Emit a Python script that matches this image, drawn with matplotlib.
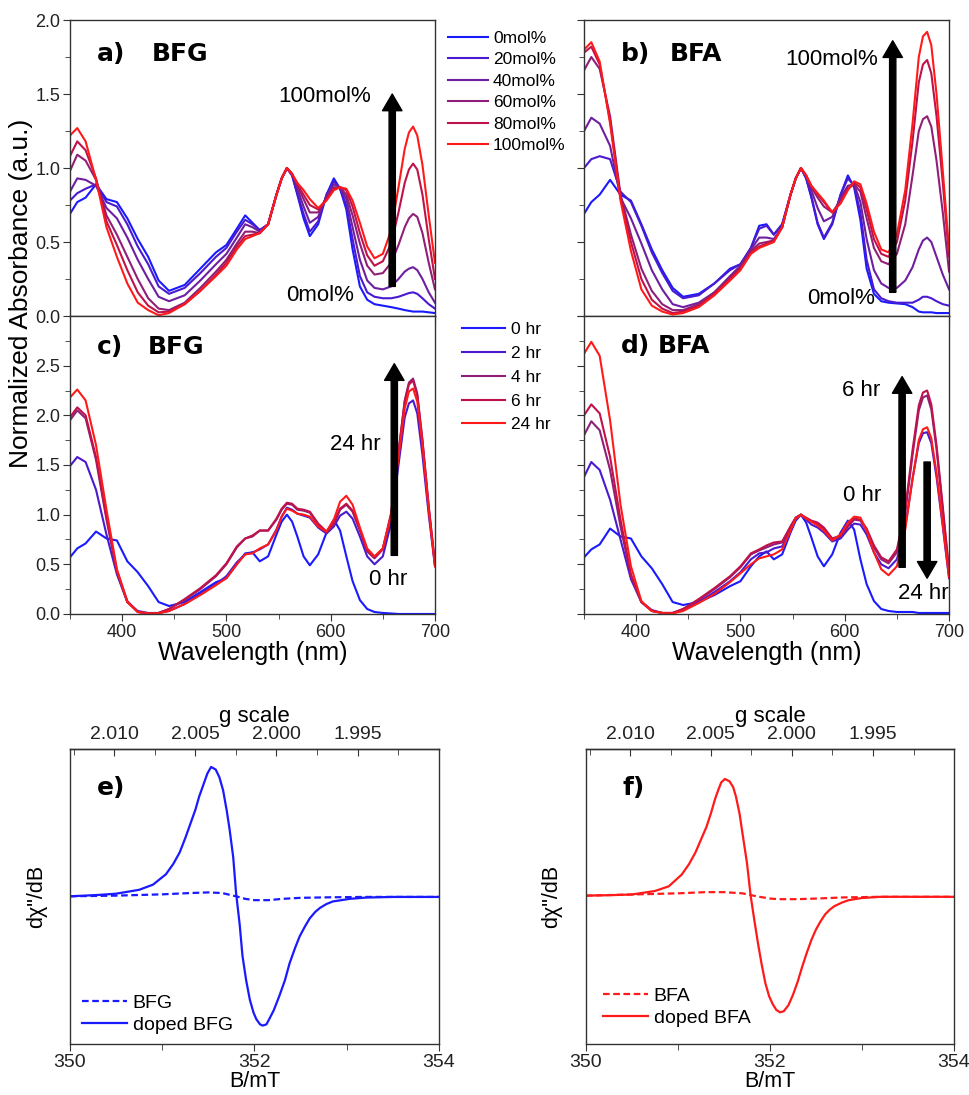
import matplotlib
matplotlib.use('Agg')
import matplotlib.pyplot as plt
from matplotlib.ticker import MultipleLocator, FixedLocator, FormatStrFormatter

plt.rcParams['font.family'] = ['Liberation Sans', 'DejaVu Sans']
plt.rcParams['axes.edgecolor'] = '#333333'
plt.rcParams['axes.linewidth'] = 1.0

# ---- UV-vis data (wavelength grid shared by all four panels) ----
wl = [350, 357, 365, 375, 385, 395, 405, 415, 425, 435, 445, 460, 475, 490, 500,
      510, 518, 525, 532, 540, 548, 553, 558, 563, 568, 574, 580, 588, 596, 603,
      609, 615, 621, 628, 635, 642, 650, 658, 665, 671, 675, 679, 683, 688, 694, 700]

mol_labels = ['0mol%', '20mol%', '40mol%', '60mol%', '80mol%', '100mol%']
mol_colors = ['#1a1aff', '#4a1ad0', '#6e1fa0', '#8f1f78', '#c0124a', '#ff1a1a']
hr_labels = ['0 hr', '2 hr', '4 hr', '6 hr', '24 hr']
hr_colors = ['#1a1aff', '#4a1ad0', '#8f1f78', '#c0124a', '#ff1a1a']

# a) BFG, doping level
bfg_0 = [.69, .77, .80, .89, .79, .77, .66, .52, .40, .24, .17, .21, .32, .43, .48,
         .59, .68, .63, .58, .62, .82, .93, 1.00, .95, .82, .66, .54, .62, .82, .93,
         .86, .72, .45, .20, .11, .08, .07, .06, .05, .04, .035, .03, .03, .03, .025, .02]
bfg_20 = [.78, .83, .86, .89, .77, .74, .62, .47, .35, .20, .15, .19, .29, .40, .46,
          .57, .65, .62, .58, .62, .82, .93, 1.00, .95, .83, .69, .57, .64, .82, .91,
          .86, .75, .52, .27, .16, .13, .12, .12, .13, .145, .155, .16, .15, .12, .08, .05]
bfg_40 = [.84, .93, .92, .88, .73, .66, .53, .38, .25, .13, .10, .14, .24, .35, .42,
          .53, .62, .60, .57, .62, .82, .93, 1.00, .96, .86, .74, .63, .67, .81, .89,
          .87, .79, .60, .38, .24, .19, .18, .20, .25, .30, .32, .33, .31, .25, .16, .09]
bfg_60 = [.98, 1.09, 1.05, .92, .68, .55, .40, .25, .12, .05, .04, .09, .19, .30, .38,
          .49, .57, .57, .56, .62, .82, .93, 1.00, .96, .88, .79, .70, .70, .80, .87,
          .87, .82, .68, .49, .34, .28, .29, .36, .48, .60, .66, .69, .67, .56, .36, .18]
bfg_80 = [1.08, 1.18, 1.12, .93, .64, .48, .31, .16, .07, .025, .03, .08, .17, .28, .36,
          .47, .54, .55, .56, .62, .82, .93, 1.00, .96, .89, .82, .75, .72, .79, .86,
          .87, .85, .74, .56, .41, .34, .37, .49, .70, .90, .99, 1.03, .99, .82, .52, .25]
bfg_100 = [1.22, 1.27, 1.18, .92, .60, .40, .22, .09, .04, .005, .02, .08, .17, .27, .34,
           .45, .52, .54, .56, .62, .82, .93, 1.00, .96, .90, .85, .79, .73, .78, .85,
           .87, .86, .78, .63, .47, .39, .42, .58, .87, 1.13, 1.24, 1.28, 1.22, 1.02, .68, .36]

# b) BFA, doping level
bfa_0 = [.69, .77, .82, .92, .82, .78, .62, .45, .31, .19, .13, .15, .22, .32, .35,
         .46, .61, .62, .55, .62, .82, .93, 1.00, .93, .80, .62, .52, .62, .82, .95,
         .87, .65, .32, .15, .10, .09, .085, .08, .06, .03, .025, .025, .025, .02, .02, .02]
bfa_20 = [1.00, 1.06, 1.08, 1.06, .84, .77, .61, .43, .29, .17, .12, .14, .22, .31, .35,
          .46, .59, .61, .55, .62, .82, .93, 1.00, .93, .81, .63, .53, .63, .82, .93,
          .88, .70, .38, .18, .12, .10, .09, .09, .09, .11, .13, .13, .12, .10, .08, .07]
bfa_40 = [1.25, 1.34, 1.30, 1.15, .80, .66, .49, .31, .18, .08, .06, .09, .16, .27, .34,
          .45, .53, .53, .52, .60, .82, .93, 1.00, .94, .85, .73, .64, .67, .80, .88,
          .89, .77, .52, .31, .22, .19, .19, .24, .33, .45, .51, .53, .50, .40, .28, .18]
bfa_60 = [1.66, 1.75, 1.67, 1.35, .82, .55, .32, .17, .08, .04, .04, .08, .16, .26, .33,
          .44, .49, .50, .51, .60, .82, .93, 1.00, .95, .87, .80, .74, .70, .78, .86,
          .89, .84, .66, .46, .37, .35, .42, .62, .95, 1.25, 1.33, 1.35, 1.28, 1.05, .70, .30]
bfa_80 = [1.78, 1.82, 1.70, 1.32, .80, .50, .25, .11, .05, .02, .03, .07, .15, .25, .32,
          .43, .47, .49, .51, .60, .82, .93, 1.00, .95, .88, .82, .77, .70, .77, .86,
          .90, .87, .72, .52, .42, .40, .50, .78, 1.18, 1.58, 1.70, 1.73, 1.64, 1.35, .90, .40]
bfa_100 = [1.80, 1.85, 1.72, 1.30, .78, .44, .18, .07, .03, .01, .02, .06, .14, .24, .31,
           .42, .46, .48, .50, .60, .82, .93, 1.00, .95, .88, .83, .78, .70, .76, .85,
           .91, .89, .76, .57, .45, .43, .55, .85, 1.30, 1.75, 1.89, 1.92, 1.83, 1.50, .98, .45]

# c) BFG, time
bfgt_0 = [.57, .66, .71, .83, .76, .74, .53, .42, .28, .12, .08, .12, .22, .32, .36,
          .50, .61, .62, .53, .58, .80, .93, 1.00, .93, .78, .58, .49, .60, .82, .95,
          .84, .58, .33, .14, .05, .02, .01, .005, 0, 0, 0, 0, 0, 0, 0, 0]
bfgt_2 = [1.49, 1.58, 1.53, 1.25, .80, .40, .12, .03, .01, .01, .03, .10, .20, .30, .38,
          .52, .60, .62, .65, .70, .85, .98, 1.07, 1.05, 1.01, .99, .97, .87, .81, .88,
          .99, 1.03, .96, .78, .58, .50, .58, .92, 1.50, 1.98, 2.12, 2.15, 2.02, 1.60, 1.00, .48]
bfgt_4 = [1.95, 2.05, 1.97, 1.55, .95, .42, .12, .02, .005, .01, .05, .14, .25, .38, .50,
          .67, .76, .78, .84, .84, .95, 1.05, 1.11, 1.10, 1.05, 1.04, 1.02, .90, .82, .90,
          1.05, 1.10, 1.03, .84, .63, .56, .65, 1.00, 1.62, 2.15, 2.33, 2.37, 2.22, 1.75, 1.08, .50]
bfgt_6 = [1.98, 2.08, 2.00, 1.58, .98, .44, .13, .02, .005, .01, .05, .15, .26, .39, .51,
          .68, .76, .79, .84, .84, .96, 1.06, 1.12, 1.11, 1.06, 1.05, 1.03, .91, .83, .92,
          1.06, 1.11, 1.04, .85, .64, .57, .66, 1.02, 1.63, 2.14, 2.31, 2.35, 2.20, 1.74, 1.08, .50]
bfgt_24 = [2.18, 2.26, 2.15, 1.70, 1.05, .45, .12, .02, .005, .005, .03, .10, .19, .29, .36,
           .50, .60, .61, .66, .70, .84, .98, 1.06, 1.04, 1.01, 1.00, .98, .88, .83, .95,
           1.13, 1.19, 1.10, .87, .66, .58, .66, 1.00, 1.58, 2.07, 2.24, 2.27, 2.14, 1.70, 1.05, .48]

# d) BFA, time
bfat_0 = [.57, .65, .70, .86, .78, .76, .58, .46, .30, .12, .09, .12, .19, .28, .33,
          .48, .58, .63, .55, .60, .82, .94, 1.00, .92, .77, .58, .48, .60, .82, .94,
          .85, .55, .30, .13, .05, .03, .02, .02, .02, .01, .01, .01, .01, .01, .01, .01]
bfat_2 = [1.38, 1.53, 1.45, 1.15, .75, .35, .12, .04, .01, .01, .04, .12, .22, .33, .42,
          .55, .61, .62, .66, .68, .85, .96, 1.00, .95, .90, .87, .82, .73, .76, .85,
          .91, .90, .80, .62, .50, .46, .55, .88, 1.36, 1.72, 1.82, 1.83, 1.72, 1.38, .88, .36]
bfat_4 = [1.80, 1.94, 1.85, 1.45, .88, .38, .12, .03, .01, .01, .05, .14, .25, .37, .47,
          .60, .64, .67, .70, .72, .88, .97, 1.00, .96, .93, .90, .86, .75, .78, .88,
          .95, .94, .84, .67, .55, .51, .62, 1.02, 1.60, 2.05, 2.18, 2.20, 2.06, 1.66, 1.05, .42]
bfat_6 = [2.00, 2.11, 2.02, 1.58, .95, .40, .12, .03, .01, .01, .05, .15, .26, .38, .48,
          .61, .65, .69, .72, .73, .88, .97, 1.00, .97, .94, .92, .87, .76, .79, .89,
          .96, .95, .86, .69, .57, .53, .65, 1.05, 1.65, 2.10, 2.23, 2.25, 2.11, 1.70, 1.08, .44]
bfat_24 = [2.62, 2.74, 2.60, 1.95, 1.10, .48, .13, .03, .01, .005, .03, .11, .20, .32, .41,
           .50, .56, .58, .60, .65, .84, .96, 1.00, .96, .93, .89, .84, .74, .80, .92,
           .98, .97, .84, .62, .45, .39, .48, .85, 1.36, 1.75, 1.86, 1.88, 1.77, 1.42, .90, .37]

# ---- EPR data ----
b_doped_bfg = [350.0, 350.3, 350.5, 350.75, 350.9, 351.04, 351.12, 351.19, 351.25, 351.31,
               351.36, 351.40, 351.45, 351.49, 351.53, 351.58, 351.62, 351.66, 351.70, 351.73,
               351.77, 351.80, 351.84, 351.87, 351.91, 351.95, 351.99, 352.02, 352.06, 352.09,
               352.13, 352.16, 352.21, 352.27, 352.33, 352.38, 352.44, 352.49, 352.55, 352.60,
               352.66, 352.71, 352.78, 352.85, 352.94, 353.03, 353.21, 353.5, 354.0]
i_doped_bfg = [0, .01, .02, .05, .09, .17, .25, .34, .45, .57,
               .67, .77, .87, .95, 1.0, .98, .92, .82, .66, .52,
               .30, .03, -.22, -.46, -.65, -.80, -.90, -.95, -.99, -1.0,
               -.99, -.95, -.88, -.77, -.65, -.52, -.40, -.31, -.23, -.17,
               -.12, -.09, -.06, -.04, -.03, -.02, -.01, -.005, -.005]
b_bfg = [350.0, 350.5, 351.0, 351.3, 351.5, 351.65, 351.8, 351.9, 352.0, 352.15, 352.3,
         352.5, 352.8, 353.2, 354.0]
i_bfg = [0, .005, .015, .025, .03, .025, 0, -.02, -.03, -.03, -.02, -.012, -.008, -.005, -.005]

b_doped_bfa = [350.0, 350.3, 350.5, 350.75, 350.9, 351.04, 351.12, 351.19, 351.25, 351.31,
               351.36, 351.40, 351.44, 351.47, 351.51, 351.56, 351.60, 351.63, 351.67, 351.70,
               351.75, 351.79, 351.83, 351.87, 351.91, 351.95, 351.99, 352.03, 352.07, 352.11,
               352.15, 352.20, 352.25, 352.30, 352.35, 352.40, 352.45, 352.50, 352.55, 352.60,
               352.65, 352.70, 352.78, 352.85, 352.92, 353.0, 353.2, 353.5, 354.0]
i_doped_bfa = [0, .005, .01, .04, .08, .18, .27, .37, .48, .59,
               .71, .82, .91, .97, 1.0, .98, .93, .85, .70, .54,
               .28, 0, -.21, -.41, -.59, -.75, -.86, -.93, -.98, -1.0,
               -.99, -.94, -.85, -.74, -.61, -.49, -.38, -.29, -.22, -.16,
               -.12, -.09, -.06, -.04, -.03, -.02, -.01, -.01, -.01]
b_bfa = [350.0, 350.5, 351.0, 351.3, 351.5, 351.7, 351.85, 352.0, 352.1, 352.3, 352.5,
         352.8, 353.2, 354.0]
i_bfa = [0, .01, .02, .03, .03, .02, -.005, -.025, -.03, -.03, -.025, -.015, -.01, -.01]

g_ticks = [2.010, 2.005, 2.000, 1.995]
g_minor = [2.0125, 2.0075, 2.0025, 1.9975, 1.9925]
HNU = 704.47   # h*nu/muB in mT (X-band, ~9.86 GHz)

TICK = 13
LAB = 18
TITLE = dict(fontsize=18, fontweight='bold', family='DejaVu Sans', va='center', ha='left')

fig = plt.figure(figsize=(9.69, 10.95), dpi=100)

ax_a = fig.add_axes([0.0722, 0.7114, 0.3767, 0.2703])
ax_c = fig.add_axes([0.0722, 0.4393, 0.3767, 0.2721])
ax_b = fig.add_axes([0.6027, 0.7114, 0.3767, 0.2703])
ax_d = fig.add_axes([0.6027, 0.4393, 0.3767, 0.2721])
ax_e = fig.add_axes([0.0722, 0.0466, 0.3808, 0.2694])
ax_f = fig.add_axes([0.6047, 0.0466, 0.3798, 0.2694])


def uv_axes(ax, ymax, ylabels, xlabels):
    ax.set_xlim(350, 700)
    ax.set_ylim(0, ymax)
    ax.xaxis.set_major_locator(MultipleLocator(100))
    ax.xaxis.set_minor_locator(MultipleLocator(50))
    ax.yaxis.set_major_locator(MultipleLocator(0.5))
    ax.yaxis.set_minor_locator(MultipleLocator(0.25))
    ax.yaxis.set_major_formatter(FormatStrFormatter('%.1f'))
    ax.tick_params(which='both', direction='out', top=False, right=False,
                   labelsize=TICK, colors='#333333', labelcolor='#222222')
    ax.tick_params(which='major', length=5, pad=2)
    ax.tick_params(which='minor', length=3.5)
    if not ylabels:
        ax.tick_params(axis='y', which='both', labelleft=False)
    if not xlabels:
        ax.tick_params(axis='x', which='both', labelbottom=False)
    else:
        ax.set_xlabel('Wavelength (nm)', fontsize=LAB, labelpad=0)


def arrow(ax, x, y0, y1):
    ax.annotate('', xy=(x, y1), xytext=(x, y0),
                arrowprops=dict(facecolor='black', edgecolor='black', width=4.5,
                                headwidth=14, headlength=12, shrink=0))


for ax, series in [(ax_a, [bfg_0, bfg_20, bfg_40, bfg_60, bfg_80, bfg_100]),
                   (ax_b, [bfa_0, bfa_20, bfa_40, bfa_60, bfa_80, bfa_100])]:
    for s, c, l in zip(series, mol_colors, mol_labels):
        ax.plot(wl, s, color=c, lw=1.5, label=l)

for ax, series in [(ax_c, [bfgt_0, bfgt_2, bfgt_4, bfgt_6, bfgt_24]),
                   (ax_d, [bfat_0, bfat_2, bfat_4, bfat_6, bfat_24])]:
    for s, c, l in zip(series, hr_colors, hr_labels):
        ax.plot(wl, s, color=c, lw=1.5, label=l)

uv_axes(ax_a, 2.0, True, False)
uv_axes(ax_b, 2.0, False, False)
uv_axes(ax_c, 3.0, True, True)
uv_axes(ax_d, 3.0, False, True)
ax_c.set_yticks([0, 0.5, 1.0, 1.5, 2.0, 2.5])

# panel titles
ax_a.text(375.6, 1.77, 'a)', **TITLE)
ax_a.text(428.3, 1.77, 'BFG', **TITLE)
ax_b.text(385.8, 1.77, 'b)', **TITLE)
ax_b.text(432.5, 1.77, 'BFA', **TITLE)
ax_c.text(375.6, 2.69, 'c)', **TITLE)
ax_c.text(425.0, 2.69, 'BFG', **TITLE)
ax_d.text(385.8, 2.70, 'd)', **TITLE)
ax_d.text(421.0, 2.70, 'BFA', **TITLE)

# arrows and annotations
ann = dict(fontsize=16, va='center', ha='center')
arrow(ax_a, 659, 0.2, 1.5)
ax_a.text(639, 1.48, '100mol%', fontsize=16, va='center', ha='right')
ax_a.text(590, 0.14, '0mol%', **ann)

arrow(ax_b, 646, 0.16, 1.86)
ax_b.text(632, 1.73, '100mol%', fontsize=16, va='center', ha='right')
ax_b.text(596, 0.12, '0mol%', **ann)

arrow(ax_c, 661, 0.59, 2.52)
ax_c.text(624, 1.71, '24 hr', **ann)
ax_c.text(655, 0.35, '0 hr', **ann)

arrow(ax_d, 655, 0.47, 2.39)
ax_d.text(616, 2.25, '6 hr', **ann)
ax_d.text(617, 1.19, '0 hr', **ann)
arrow(ax_d, 679, 1.53, 0.36)
ax_d.text(675, 0.21, '24 hr', **ann)

fig.text(0.022, 0.7324, 'Normalized Absorbance (a.u.)', rotation=90,
         ha='center', va='center', fontsize=19)

leg_kw = dict(loc='upper left', bbox_transform=fig.transFigure, frameon=False,
              borderpad=0, borderaxespad=0, handletextpad=0.3)
ax_a.legend(bbox_to_anchor=(0.4623, 0.9718), fontsize=12.5, handlelength=2.3,
            labelspacing=0.36, **leg_kw)
ax_c.legend(bbox_to_anchor=(0.4768, 0.7060), fontsize=12.5, handlelength=2.5,
            labelspacing=0.50, **leg_kw)


# ---- EPR panels ----
def b2g(b):
    return HNU / b


def g2b(g):
    return HNU / g


def epr_axes(ax, letter, lx, ly_x):
    ax.set_xlim(350, 354)
    ax.set_xticks([350, 352, 354])
    ax.xaxis.set_minor_locator(MultipleLocator(1))
    ax.set_yticks([])
    ax.tick_params(which='both', direction='out', top=False, labelsize=14,
                   colors='#333333', labelcolor='#222222')
    ax.tick_params(which='major', length=5, pad=2)
    ax.tick_params(which='minor', length=4)
    ax.set_xlabel('B/mT', fontsize=15.5, labelpad=0)
    ax.set_ylabel('d\u03c7"/dB', fontsize=15.5)
    ax.yaxis.set_label_coords(ly_x, 0.5)
    sec = ax.secondary_xaxis('top', functions=(b2g, g2b))
    sec.xaxis.set_major_locator(FixedLocator(g_ticks))
    sec.xaxis.set_minor_locator(FixedLocator(g_minor))
    sec.xaxis.set_major_formatter(FormatStrFormatter('%.3f'))
    sec.tick_params(which='both', direction='in', labelsize=14,
                    colors='#333333', labelcolor='#222222')
    sec.tick_params(which='major', length=5, pad=4)
    sec.tick_params(which='minor', length=4)
    sec.set_xlabel('g scale', fontsize=16, labelpad=3)
    ax.text(lx, 0.868, letter, transform=ax.transAxes, **TITLE)


ax_e.plot(b_bfg, i_bfg, color='#1a1aff', lw=1.6, ls=(0, (3, 1.6)), label='BFG')
ax_e.plot(b_doped_bfg, i_doped_bfg, color='#1a1aff', lw=1.6, label='doped BFG')
ax_e.set_ylim(-1.142, 1.139)
epr_axes(ax_e, 'e)', 0.073, -0.062)

ax_f.plot(b_bfa, i_bfa, color='#ff1a1a', lw=1.6, ls=(0, (3, 1.6)), label='BFA')
ax_f.plot(b_doped_bfa, i_doped_bfa, color='#ff1a1a', lw=1.6, label='doped BFA')
ax_f.set_ylim(-1.271, 1.257)
epr_axes(ax_f, 'f)', 0.098, -0.065)

ax_e.legend(bbox_to_anchor=(0.0846, 0.0920), fontsize=14, handlelength=2.3,
            labelspacing=0.22, **leg_kw)
ax_f.legend(bbox_to_anchor=(0.6223, 0.0980), fontsize=14, handlelength=2.3,
            labelspacing=0.22, **leg_kw)

fig.savefig('out.png', dpi=100)
